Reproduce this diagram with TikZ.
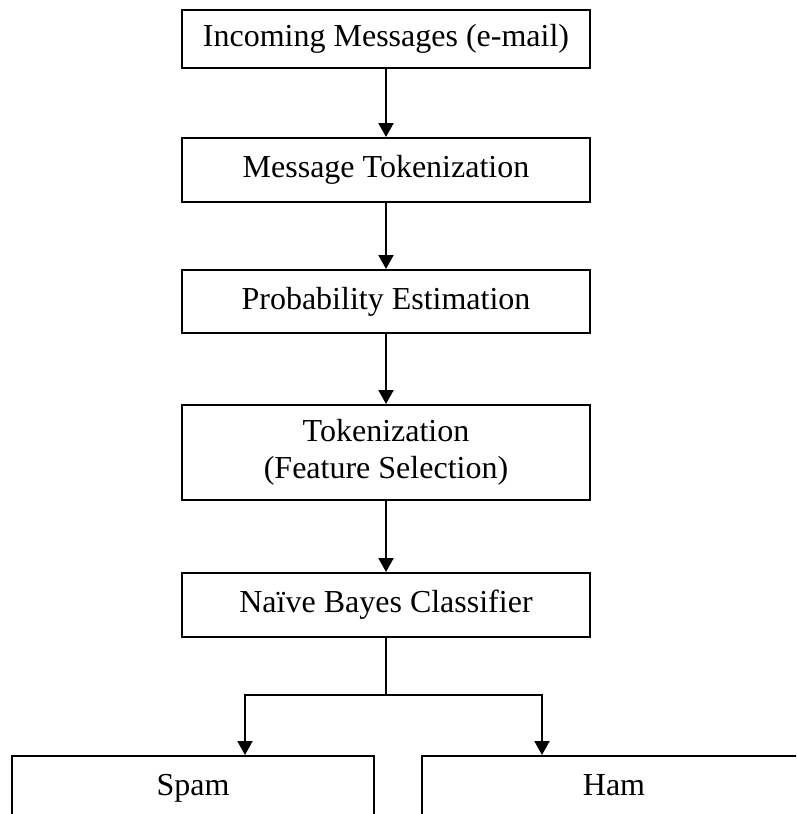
\documentclass[tikz,border=0pt]{standalone}
\usepackage{fontspec}
\setmainfont{Liberation Serif}
\usetikzlibrary{arrows.meta}
\begin{document}
\begin{tikzpicture}[x=1pt,y=-1pt,
  box/.style={draw,line width=2pt,minimum width=408pt,inner sep=0pt,align=center,
    font=\fontsize{32}{37}\selectfont,anchor=north},
  lbl/.style={font=\fontsize{32}{37}\selectfont,inner sep=0pt,anchor=base},
  conn/.style={line width=2pt},
  arr/.style={line width=2pt,-{Triangle[length=14pt,width=15pt]}}]
\useasboundingbox (0,0) rectangle (796,814);
\clip (0,0) rectangle (796,814);
\node[box,minimum height=58pt] (a) at (386,9) {Incoming Messages (e-mail)};
\node[box,minimum height=64pt] (b) at (386,137) {Message Tokenization};
\node[box,minimum height=63pt] (c) at (386,269) {Probability Estimation};
\node[box,minimum height=95pt] (d) at (386,404) {Tokenization\\(Feature Selection)};
\node[box,minimum height=64pt] (e) at (386,572) {Naïve Bayes Classifier};
\node[draw,line width=2pt,minimum width=362pt,minimum height=120pt,anchor=north,inner sep=0pt] (spam) at (193,755) {};
\node[draw,line width=2pt,minimum width=384pt,minimum height=120pt,anchor=north,inner sep=0pt] (ham) at (614,755) {};
\node[lbl] (spamt) at ([yshift=-40pt]spam.north) {Spam};
\node[lbl] (hamt) at ([yshift=-40pt]ham.north) {Ham};
\draw[arr] (a.south) -- (b.north);
\draw[arr] (b.south) -- (c.north);
\draw[arr] (c.south) -- (d.north);
\draw[arr] (d.south) -- (e.north);
\coordinate (fork) at (386,695);
\coordinate (sp) at (245,755);
\coordinate (hp) at (542,755);
\draw[conn] (e.south) -- (fork);
\draw[arr] (fork) -| (sp);
\draw[arr] (fork) -| (hp);
\end{tikzpicture}
\end{document}
